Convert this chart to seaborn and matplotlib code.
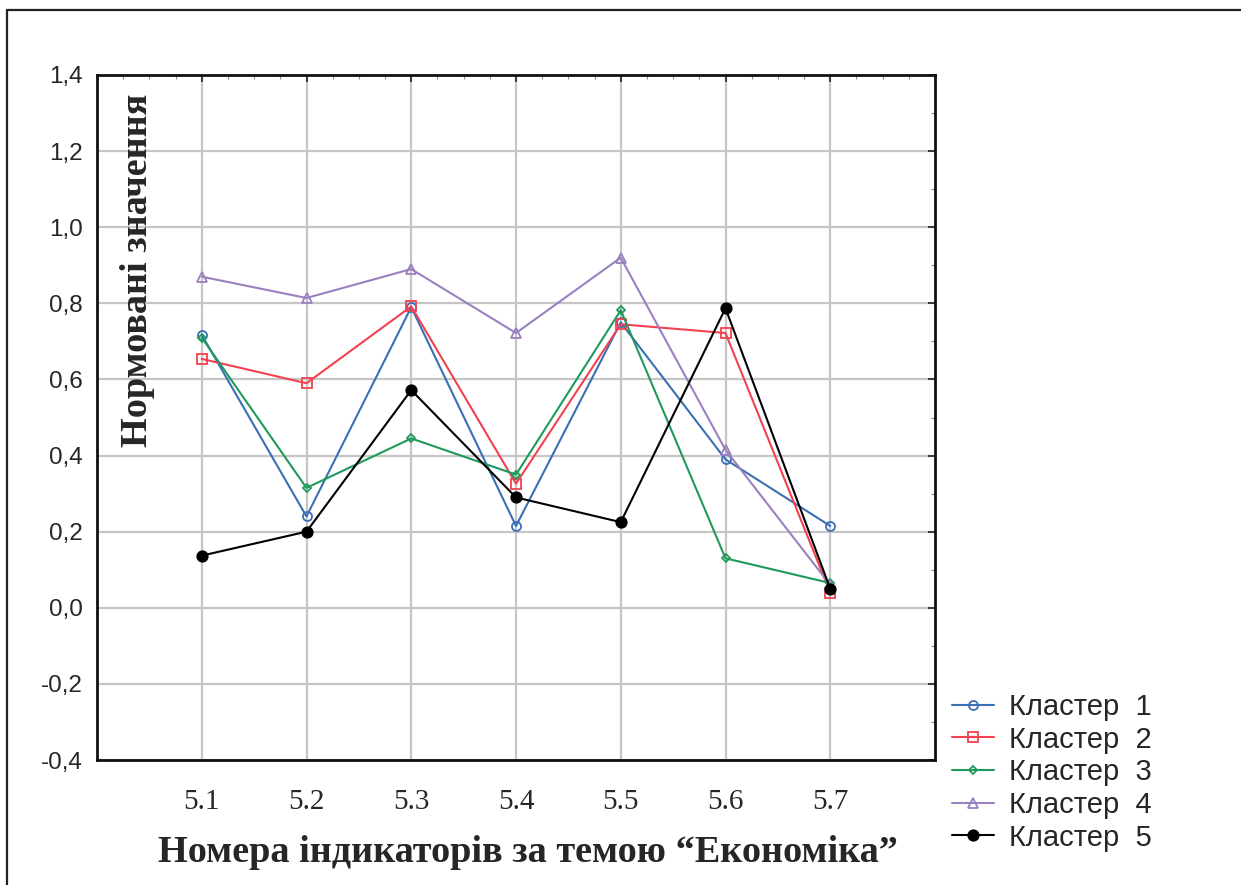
import matplotlib
matplotlib.use("Agg")
import matplotlib.pyplot as plt
from matplotlib.lines import Line2D
from matplotlib.ticker import MultipleLocator, FixedLocator
import seaborn as sns
import pandas as pd

categories = ["5.1", "5.2", "5.3", "5.4", "5.5", "5.6", "5.7"]
cluster1 = [0.717, 0.24, 0.79, 0.215, 0.75, 0.39, 0.215]
cluster2 = [0.654, 0.59, 0.792, 0.326, 0.745, 0.722, 0.04]
cluster3 = [0.71, 0.315, 0.445, 0.35, 0.782, 0.13, 0.065]
cluster4 = [0.87, 0.814, 0.89, 0.722, 0.92, 0.415, 0.06]
cluster5 = [0.137, 0.2, 0.572, 0.29, 0.225, 0.787, 0.05]
series_names = ["Кластер  1", "Кластер  2", "Кластер  3", "Кластер  4", "Кластер  5"]
series_values = [cluster1, cluster2, cluster3, cluster4, cluster5]

colors = ["#3b6fb4", "#f2424f", "#1f9a5c", "#9b80c0", "#000000"]
markers = ["o", "s", "D", "^", "o"]
msizes = [6.5, 7.5, 4.5, 7.5, 7.5]
faces = ["none", "none", "none", "none", "#000000"]

sns.set_style("white")
plt.rcParams["font.family"] = ["Liberation Sans", "DejaVu Sans"]

fig = plt.figure(figsize=(12.41, 8.85), dpi=100)
ax = fig.add_axes([97/1241, 125/885, (935-97)/1241, (760-75)/885])

rows = []
for name, vals in zip(series_names, series_values):
    for i, v in enumerate(vals):
        rows.append({"pos": i + 1, "value": v, "cluster": name})
df = pd.DataFrame(rows)

for k, name in enumerate(series_names):
    sub = df[df["cluster"] == name]
    sns.lineplot(data=sub, x="pos", y="value", ax=ax, color=colors[k],
                 marker=markers[k], markersize=msizes[k],
                 markerfacecolor=faces[k], markeredgecolor=colors[k],
                 markeredgewidth=1.3, linewidth=1.5, label=name, zorder=3 + k)

ax.set_xlim(0, 8)
ax.set_ylim(-0.4, 1.4)
ax.xaxis.set_major_locator(FixedLocator(range(1, 8)))
ax.xaxis.set_minor_locator(MultipleLocator(0.25))
ax.yaxis.set_major_locator(MultipleLocator(0.2))
ax.yaxis.set_minor_locator(MultipleLocator(0.1))
ax.set_xticklabels(categories, family="Liberation Serif", fontsize=21)
ax.set_yticks([-0.4 + 0.2 * i for i in range(10)])
ax.set_yticklabels([f"{-0.4 + 0.2 * i:.1f}".replace(".", ",") for i in range(10)], fontsize=17.5)
ax.tick_params(axis="both", which="major", direction="in", length=5, width=1.2,
               top=True, right=True, color="#222222")
ax.tick_params(axis="both", which="minor", direction="in", length=3, width=0.8,
               top=True, right=True, color="#888888")
ax.tick_params(axis="x", which="major", pad=21)
ax.tick_params(axis="y", which="major", pad=10)
ax.grid(True, which="major", color="#c6c6c6", linewidth=1.6)
ax.set_axisbelow(True)
for s in ax.spines.values():
    s.set_color("#111111")
    s.set_linewidth(2.0)

ax.set_xlabel("Номера індикаторів за темою “Економіка”", family="Liberation Serif",
              fontweight="bold", fontsize=27.5, labelpad=14)
ax.xaxis.label.set_x((528 - 97) / 838)
ax.set_ylabel("")
ax.text(0.048, 0.715, "Нормовані значення", transform=ax.transAxes, rotation=90,
        ha="center", va="center", family="Liberation Serif", fontweight="bold",
        fontsize=27.5, zorder=10)

ax.legend(loc="upper left", bbox_to_anchor=(952/1241, 1 - 693/885),
          bbox_transform=fig.transFigure, frameon=False, fontsize=21,
          handlelength=1.45, handletextpad=0.5, labelspacing=0.16, borderaxespad=0,
          borderpad=0)

fig.add_artist(Line2D([7/1241, 7/1241], [0, 1 - 10/885], transform=fig.transFigure,
                      color="#222222", linewidth=1.6))
fig.add_artist(Line2D([7/1241, 1], [1 - 10/885, 1 - 10/885], transform=fig.transFigure,
                      color="#222222", linewidth=1.6))

fig.savefig("out.png", dpi=100)
